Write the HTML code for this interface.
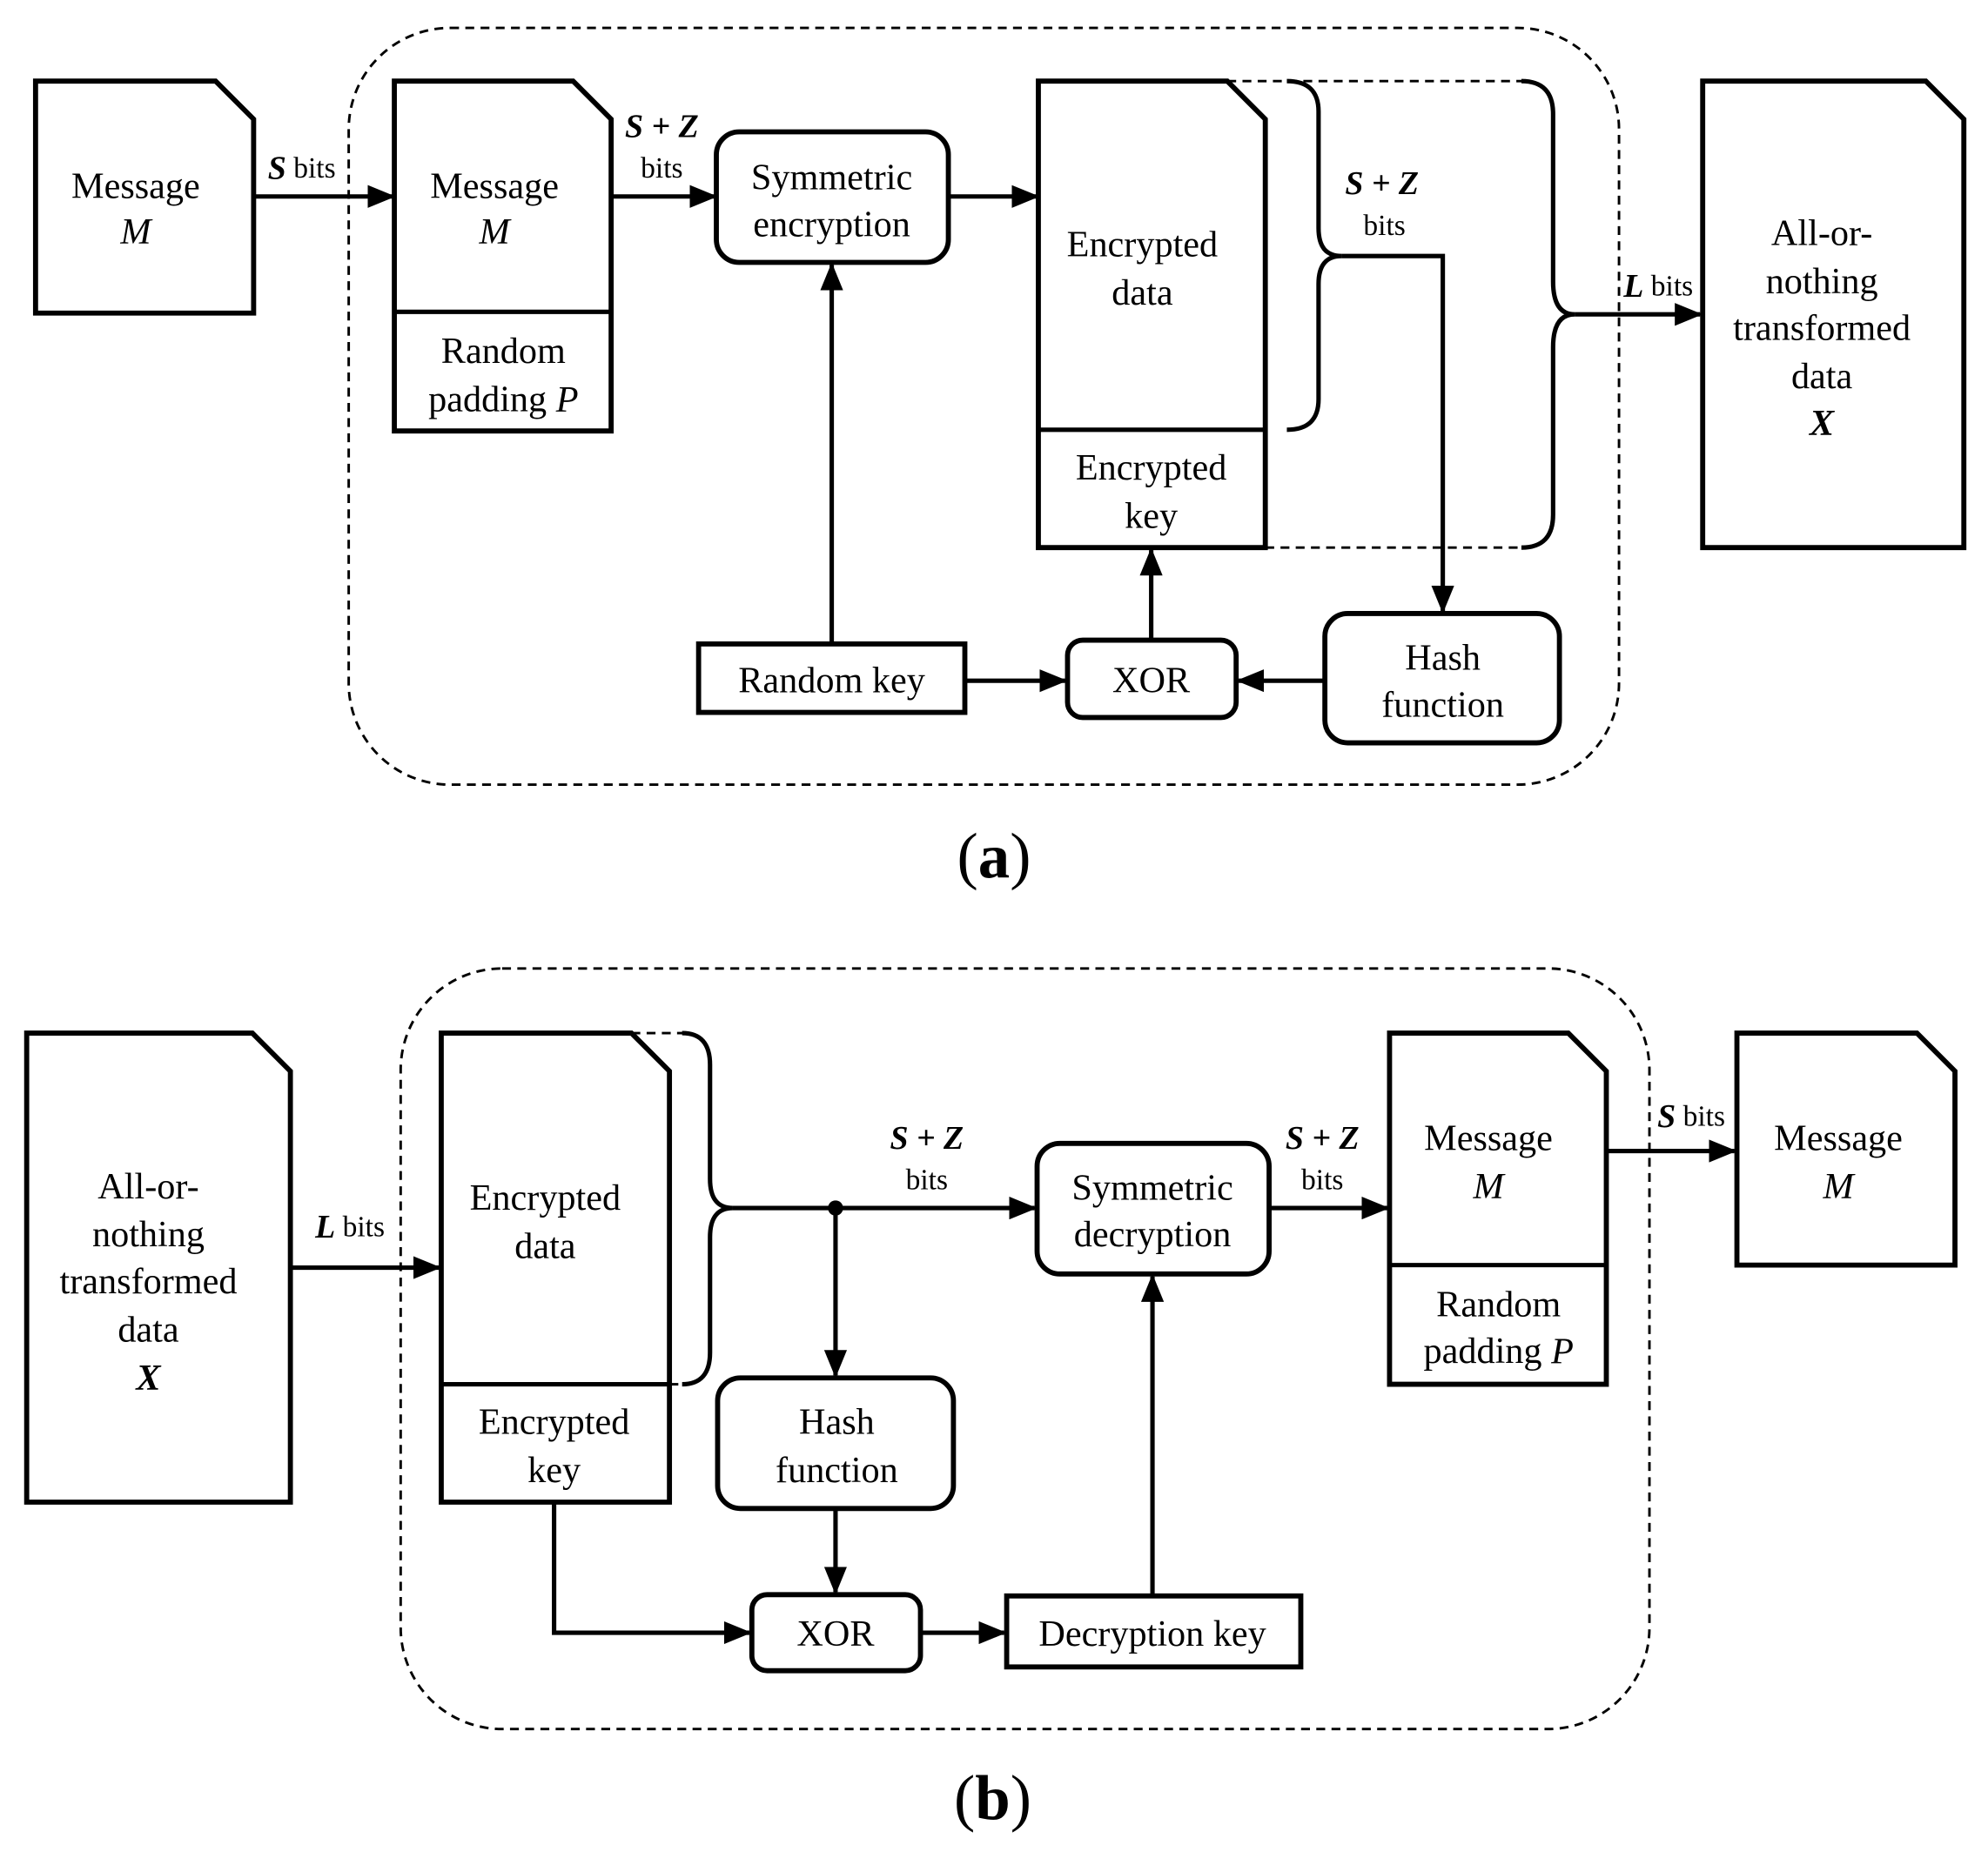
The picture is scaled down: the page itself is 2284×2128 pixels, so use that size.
<!DOCTYPE html>
<html><head><meta charset="utf-8"><style>
html,body{margin:0;padding:0;background:#fff}
svg{display:block}
text{font-family:"Liberation Serif",serif;fill:#000}
.t{font-size:29px;text-anchor:middle;dominant-baseline:central}
.l{font-size:23px;text-anchor:middle;dominant-baseline:central}
.m{font-size:26px;font-weight:bold;font-style:italic}
.b{fill:#fff;stroke:#000;stroke-width:4}
.ln{fill:none;stroke:#000;stroke-width:3.5}
.d{fill:none;stroke:#000;stroke-width:2;stroke-dasharray:7 5}
</style></head><body>
<svg width="2284" height="2128" viewBox="0 0 1568 1461" xmlns="http://www.w3.org/2000/svg">
<defs><marker id="a" markerUnits="userSpaceOnUse" markerWidth="22" markerHeight="18" refX="20" refY="9" orient="auto"><path d="M0,0 L22,9 L0,18 Z" fill="#000"/></marker></defs>

<!-- (a) -->
<rect class="d" x="275" y="22" width="1002" height="597" rx="80"/>
<path class="b" d="M28,64 H170 L200,94 V247 H28 Z"/>
<text class="t" x="107" y="147">Message</text><text class="t" x="107" y="183" font-style="italic">M</text>
<line class="ln" x1="200" y1="155" x2="310" y2="155" marker-end="url(#a)"/>
<text class="l" x="238" y="133"><tspan class="m">S</tspan> bits</text>

<path class="b" d="M311,64 H452 L482,94 V340 H311 Z"/><line class="ln" x1="311" y1="246" x2="482" y2="246" stroke-width="4"/>
<text class="t" x="390" y="147">Message</text><text class="t" x="390" y="183" font-style="italic">M</text>
<text class="t" x="397" y="277">Random</text><text class="t" x="397" y="315">padding <tspan font-style="italic">P</tspan></text>
<line class="ln" x1="482" y1="155" x2="564" y2="155" marker-end="url(#a)"/>
<text class="l m" x="522" y="100">S + Z</text><text class="l" x="522" y="133">bits</text>

<rect class="b" x="565" y="104" width="183" height="103" rx="18"/>
<text class="t" x="656" y="140">Symmetric</text><text class="t" x="656" y="177">encryption</text>
<line class="ln" x1="748" y1="155" x2="818" y2="155" marker-end="url(#a)"/>

<path class="b" d="M819,64 H968 L998,94 V432 H819 Z"/><line class="ln" x1="819" y1="339" x2="998" y2="339" stroke-width="4"/>
<text class="t" x="901" y="193">Encrypted</text><text class="t" x="901" y="231">data</text>
<text class="t" x="908" y="369">Encrypted</text><text class="t" x="908" y="407">key</text>
<line class="d" x1="968" y1="64" x2="1205" y2="64"/>
<line class="d" x1="998" y1="432" x2="1205" y2="432"/>
<path class="ln" d="M1015,64 Q1040,64 1040,88 V180 Q1040,202 1058,202 Q1040,202 1040,224 V315 Q1040,339 1015,339"/>
<path class="ln" d="M1058,202 H1138 V482" marker-end="url(#a)"/>
<text class="l m" x="1090" y="145">S + Z</text><text class="l" x="1092" y="178">bits</text>
<path class="ln" d="M1200,64 Q1225,64 1225,90 V222 Q1225,248 1242,248 Q1225,248 1225,274 V406 Q1225,432 1200,432"/>
<line class="ln" x1="1242" y1="248" x2="1341" y2="248" marker-end="url(#a)"/>
<text class="l" x="1308" y="226"><tspan class="m">L</tspan> bits</text>

<path class="b" d="M1343,64 H1519 L1549,94 V432 H1343 Z"/>
<text class="t" x="1437" y="184">All-or-</text><text class="t" x="1437" y="222">nothing</text><text class="t" x="1437" y="259">transformed</text><text class="t" x="1437" y="297">data</text><text class="t" x="1437" y="334" font-weight="bold" font-style="italic">X</text>

<rect class="b" x="551" y="508" width="210" height="54"/><text class="t" x="656" y="537">Random key</text>
<line class="ln" x1="656" y1="508" x2="656" y2="209" marker-end="url(#a)"/>
<line class="ln" x1="761" y1="537" x2="840" y2="537" marker-end="url(#a)"/>
<rect class="b" x="842" y="505" width="133" height="61" rx="12"/><text class="t" x="908" y="537">XOR</text>
<line class="ln" x1="908" y1="505" x2="908" y2="434" marker-end="url(#a)"/>
<rect class="b" x="1045" y="484" width="185" height="102" rx="18"/>
<text class="t" x="1138" y="519">Hash</text><text class="t" x="1138" y="556">function</text>
<line class="ln" x1="1045" y1="537" x2="977" y2="537" marker-end="url(#a)"/>
<text x="784" y="675" font-size="50" text-anchor="middle" dominant-baseline="central">(<tspan font-weight="bold">a</tspan>)</text>

<!-- (b) -->
<rect class="d" x="316" y="764" width="985" height="600" rx="80"/>
<path class="b" d="M21,815 H199 L229,845 V1185 H21 Z"/>
<text class="t" x="117" y="936">All-or-</text><text class="t" x="117" y="974">nothing</text><text class="t" x="117" y="1011">transformed</text><text class="t" x="117" y="1049">data</text><text class="t" x="117" y="1087" font-weight="bold" font-style="italic">X</text>
<line class="ln" x1="229" y1="1000" x2="346" y2="1000" marker-end="url(#a)"/>
<text class="l" x="276" y="968"><tspan class="m">L</tspan> bits</text>

<path class="b" d="M348,815 H498 L528,845 V1185 H348 Z"/><line class="ln" x1="348" y1="1092" x2="528" y2="1092" stroke-width="4"/>
<text class="t" x="430" y="945">Encrypted</text><text class="t" x="430" y="983">data</text>
<text class="t" x="437" y="1122">Encrypted</text><text class="t" x="437" y="1160">key</text>
<line class="d" x1="498" y1="815" x2="540" y2="815"/><line class="d" x1="528" y1="1092" x2="540" y2="1092"/>
<path class="ln" d="M538,815 Q560,815 560,840 V930 Q560,953 578,953 Q560,953 560,976 V1067 Q560,1092 538,1092"/>
<line class="ln" x1="578" y1="953" x2="816" y2="953" marker-end="url(#a)"/>
<circle cx="659" cy="953" r="6" fill="#000"/>
<line class="ln" x1="659" y1="953" x2="659" y2="1085" marker-end="url(#a)"/>
<text class="l m" x="731" y="898">S + Z</text><text class="l" x="731" y="931">bits</text>

<rect class="b" x="566" y="1087" width="186" height="103" rx="18"/>
<text class="t" x="660" y="1122">Hash</text><text class="t" x="660" y="1160">function</text>
<line class="ln" x1="659" y1="1190" x2="659" y2="1256" marker-end="url(#a)"/>
<rect class="b" x="593" y="1258" width="133" height="60" rx="12"/><text class="t" x="659" y="1289">XOR</text>
<path class="ln" d="M437,1185 V1288 H591" marker-end="url(#a)"/>
<line class="ln" x1="726" y1="1288" x2="792" y2="1288" marker-end="url(#a)"/>
<rect class="b" x="794" y="1259" width="232" height="56"/><text class="t" x="909" y="1289">Decryption key</text>
<line class="ln" x1="909" y1="1259" x2="909" y2="1007" marker-end="url(#a)"/>
<rect class="b" x="818" y="902" width="183" height="103" rx="18"/>
<text class="t" x="909" y="937">Symmetric</text><text class="t" x="909" y="974">decryption</text>
<line class="ln" x1="1001" y1="953" x2="1094" y2="953" marker-end="url(#a)"/>
<text class="l m" x="1043" y="898">S + Z</text><text class="l" x="1043" y="931">bits</text>

<path class="b" d="M1096,815 H1237 L1267,845 V1092 H1096 Z"/><line class="ln" x1="1096" y1="998" x2="1267" y2="998" stroke-width="4"/>
<text class="t" x="1174" y="898">Message</text><text class="t" x="1174" y="936" font-style="italic">M</text>
<text class="t" x="1182" y="1029">Random</text><text class="t" x="1182" y="1066">padding <tspan font-style="italic">P</tspan></text>
<line class="ln" x1="1267" y1="908" x2="1368" y2="908" marker-end="url(#a)"/>
<text class="l" x="1334" y="881"><tspan class="m">S</tspan> bits</text>
<path class="b" d="M1370,815 H1512 L1542,845 V998 H1370 Z"/>
<text class="t" x="1450" y="898">Message</text><text class="t" x="1450" y="936" font-style="italic">M</text>
<text x="783" y="1418" font-size="50" text-anchor="middle" dominant-baseline="central">(<tspan font-weight="bold">b</tspan>)</text>
</svg>
</body></html>
